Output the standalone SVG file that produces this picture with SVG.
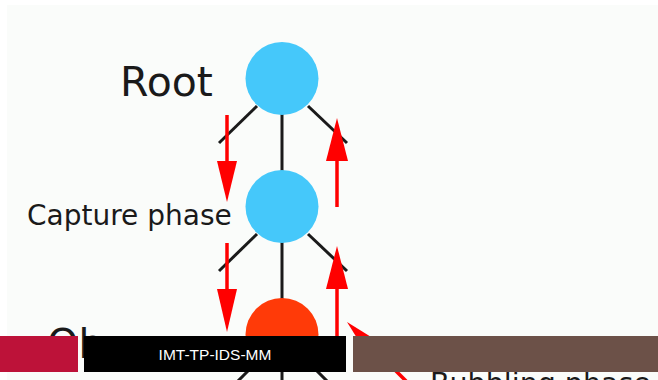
<svg xmlns="http://www.w3.org/2000/svg" width="658" height="380" viewBox="0 0 658 380">
  <style>
    .lbl { font-family: "DejaVu Sans", "Liberation Sans", sans-serif; fill: #1a1a1a; }
    .edge { stroke: #1a1a1a; stroke-width: 3; fill: none; }
    .blue { fill: #45c8fa; }
    .target { fill: #ff3a08; }
    .red { stroke: #ff0000; stroke-width: 3.5; fill: none; }
    .head { fill: #ff0000; }
    .foot { font-family: "Liberation Sans", Arial, sans-serif; font-size: 15.5px; fill: #ffffff; }
  </style>
  <rect x="0" y="0" width="658" height="380" fill="#ffffff"/>
  <rect x="7" y="5" width="651" height="375" fill="#fafcfa"/>

  <g id="connectors">
    <line class="edge" x1="257" y1="106" x2="219" y2="143"/>
    <line class="edge" x1="308" y1="106" x2="347" y2="143"/>
    <line class="edge" x1="282" y1="114" x2="282" y2="171"/>
    <line class="edge" x1="257" y1="234" x2="219" y2="271"/>
    <line class="edge" x1="308" y1="234" x2="347" y2="271"/>
    <line class="edge" x1="282" y1="242" x2="282" y2="299"/>
    <line class="edge" x1="257" y1="362" x2="236" y2="383"/>
    <line class="edge" x1="308" y1="362" x2="329" y2="383"/>
    <line class="edge" x1="282" y1="370" x2="282" y2="383"/>

    <line class="red" x1="227" y1="115" x2="227" y2="162"/>
    <polygon class="head" points="217,161 237,161 227,202"/>
    <line class="red" x1="337" y1="207" x2="337" y2="160"/>
    <polygon class="head" points="326,161 348,161 337,118"/>
    <line class="red" x1="227" y1="243" x2="227" y2="290"/>
    <polygon class="head" points="217,289 237,289 227,332"/>
    <line class="red" x1="337" y1="340" x2="337" y2="288"/>
    <polygon class="head" points="326,289 348,289 337,246"/>
    <line class="red" x1="375" y1="350" x2="412" y2="387"/>
    <polygon class="head" points="347,322 384,345 370,359"/>
  </g>

  <g id="root"><circle class="blue" cx="282" cy="78.5" r="36.5"/></g>
  <g id="middle"><circle class="blue" cx="282" cy="206.5" r="36.5"/></g>
  <g id="target"><circle class="target" cx="282" cy="334.5" r="36.5"/></g>

  <g id="labels">
    <text class="lbl" x="120" y="96" font-size="41">Root</text>
    <text class="lbl" x="27" y="225" font-size="28">Capture phase</text>
    <text class="lbl" x="47" y="358" font-size="40">Ob</text>
    <text class="lbl" x="430" y="393" font-size="28.5">Bubbling phase</text>
  </g>

  <g id="footer">
    <rect x="0" y="336" width="78" height="36" fill="#bd1239"/>
    <rect x="84" y="336" width="262" height="36" fill="#000000"/>
    <rect x="353" y="336" width="305" height="36" fill="#6c5148"/>
    <text class="foot" x="215" y="360" text-anchor="middle">IMT-TP-IDS-MM</text>
  </g>
</svg>
